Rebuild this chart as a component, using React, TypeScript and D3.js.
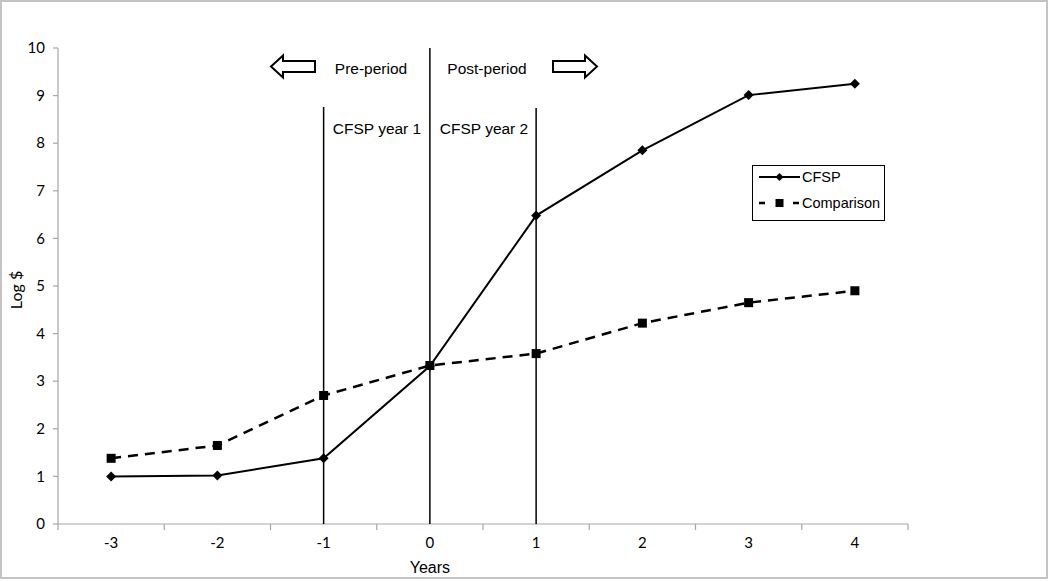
import React from "react";
import * as d3 from "d3";

const years = ["-3", "-2", "-1", "0", "1", "2", "3", "4"];
const cfsp = [1.0, 1.02, 1.38, 3.32, 6.48, 7.85, 9.01, 9.25];
const comparison = [1.38, 1.65, 2.7, 3.33, 3.58, 4.22, 4.65, 4.9];
const yTicks = [0, 1, 2, 3, 4, 5, 6, 7, 8, 9, 10];
const seriesNames = ["CFSP", "Comparison"];

const W = 1050, H = 581;
const left = 58, right = 908, top = 48, bottom = 524;

export default function App() {
  const x = d3.scaleBand<string>().domain(years).range([left, right]);
  const y = d3.scaleLinear().domain([0, 10]).range([bottom, top]);
  const cx = (d: string) => (x(d) as number) + x.bandwidth() / 2;
  const line = d3.line<number>().x((_, i) => cx(years[i])).y((v) => y(v));
  const tickFont = "Lato, 'Liberation Sans', sans-serif";
  const arial = "'Liberation Sans', Arial, sans-serif";
  const boundaries = years.map((d) => x(d) as number).concat([right]);
  const arrowY = 66.5;
  const leftArrow = `M271,${arrowY} L283,${arrowY - 11} L283,${arrowY - 5.5} L315,${arrowY - 5.5} L315,${arrowY + 5.5} L283,${arrowY + 5.5} L283,${arrowY + 11} Z`;
  const rightArrow = `M597,${arrowY} L585,${arrowY - 11} L585,${arrowY - 5.5} L553,${arrowY - 5.5} L553,${arrowY + 5.5} L585,${arrowY + 5.5} L585,${arrowY + 11} Z`;
  const diamond = (px: number, py: number, r: number) =>
    `M${px},${py - r} L${px + r},${py} L${px},${py + r} L${px - r},${py} Z`;

  return (
    <svg width={W} height={H} style={{ position: "absolute", left: 0, top: 0, background: "#fff" }}>
      <rect x={1} y={1} width={1046} height={577} fill="#fff" stroke="#c4c4c4" strokeWidth={2} />
      {/* y axis */}
      <line x1={left} x2={left} y1={top} y2={bottom} stroke="#a6a6a6" strokeWidth={1.2} />
      {yTicks.map((t) => (
        <g key={t}>
          <line x1={left - 5} x2={left} y1={y(t)} y2={y(t)} stroke="#a6a6a6" strokeWidth={1.2} />
          <text x={left - 13} y={y(t)} dy="0.35em" textAnchor="end" fontFamily={tickFont} fontSize={15} fill="#000">
            {t}
          </text>
        </g>
      ))}
      {/* x axis */}
      <line x1={left} x2={right} y1={bottom} y2={bottom} stroke="#a6a6a6" strokeWidth={1.2} />
      {boundaries.map((b, i) => (
        <line key={i} x1={b} x2={b} y1={bottom} y2={bottom + 6} stroke="#a6a6a6" strokeWidth={1.2} />
      ))}
      {years.map((d) => (
        <text key={d} x={cx(d)} y={bottom + 24} textAnchor="middle" fontFamily={tickFont} fontSize={15} fill="#000">
          {d}
        </text>
      ))}
      <text x={cx("0")} y={573} textAnchor="middle" fontFamily={arial} fontSize={16} fill="#000">
        Years
      </text>
      <text transform={`translate(22,${(top + bottom) / 2 + 4}) rotate(-90)`} textAnchor="middle" fontFamily={tickFont} fontSize={16} fill="#000">
        Log $
      </text>
      {/* vertical markers */}
      <line x1={cx("-1")} x2={cx("-1")} y1={107} y2={bottom} stroke="#000" strokeWidth={1.5} />
      <line x1={cx("0")} x2={cx("0")} y1={top} y2={bottom} stroke="#000" strokeWidth={1.5} />
      <line x1={cx("1")} x2={cx("1")} y1={108} y2={bottom} stroke="#000" strokeWidth={1.5} />
      <path d={leftArrow} fill="#fff" stroke="#000" strokeWidth={2} />
      <path d={rightArrow} fill="#fff" stroke="#000" strokeWidth={2} />
      <text x={371} y={74} textAnchor="middle" fontFamily={arial} fontSize={15.5} fill="#000">Pre-period</text>
      <text x={487} y={74} textAnchor="middle" fontFamily={arial} fontSize={15.5} fill="#000">Post-period</text>
      <text x={377} y={134} textAnchor="middle" fontFamily={arial} fontSize={15.5} fill="#000">CFSP year 1</text>
      <text x={484} y={134} textAnchor="middle" fontFamily={arial} fontSize={15.5} fill="#000">CFSP year 2</text>
      {/* series */}
      <path d={line(comparison) as string} fill="none" stroke="#000" strokeWidth={2.5} strokeDasharray="10,7" />
      <path d={line(cfsp) as string} fill="none" stroke="#000" strokeWidth={2} />
      {comparison.map((v, i) => (
        <rect key={i} x={cx(years[i]) - 4.5} y={y(v) - 4.5} width={9} height={9} fill="#000" />
      ))}
      {cfsp.map((v, i) => (
        <path key={i} d={diamond(cx(years[i]), y(v), 5)} fill="#000" />
      ))}
      {/* legend */}
      <rect x={752.5} y={165.5} width={132} height={55} fill="#fff" stroke="#000" strokeWidth={1} />
      <line x1={759} x2={800} y1={177} y2={177} stroke="#000" strokeWidth={2} />
      <path d={diamond(779.5, 177, 4)} fill="#000" />
      <text x={802} y={182} fontFamily={arial} fontSize={14.5} fill="#000">{seriesNames[0]}</text>
      <line x1={759} x2={800} y1={203} y2={203} stroke="#000" strokeWidth={2.5} strokeDasharray="6,11" />
      <rect x={775.5} y={199} width={8} height={8} fill="#000" />
      <text x={802} y={208} fontFamily={arial} fontSize={14.5} fill="#000">{seriesNames[1]}</text>
    </svg>
  );
}
